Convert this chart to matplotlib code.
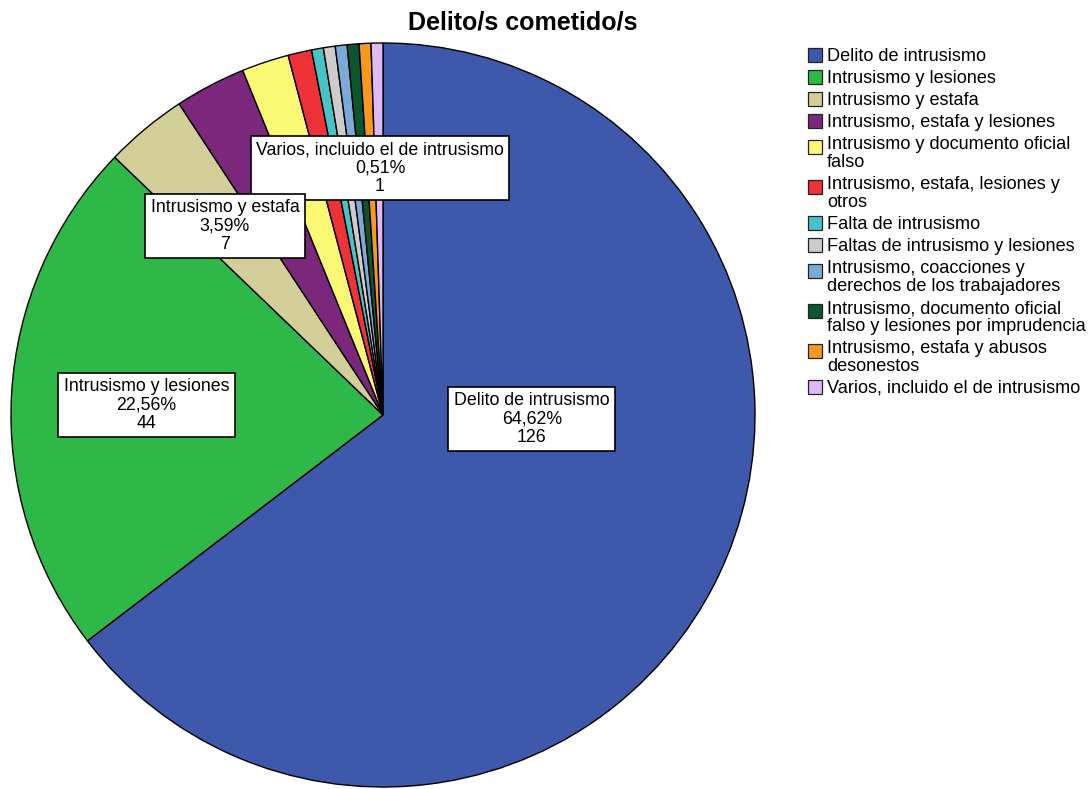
import matplotlib
matplotlib.use("Agg")
import matplotlib.pyplot as plt
from matplotlib.patches import Rectangle

plt.rcParams["font.family"] = ["Liberation Sans", "DejaVu Sans"]

# Categories (legend order) and case counts
categories = [
    "Delito de intrusismo",
    "Intrusismo y lesiones",
    "Intrusismo y estafa",
    "Intrusismo, estafa y lesiones",
    "Intrusismo y documento oficial\nfalso",
    "Intrusismo, estafa, lesiones y\notros",
    "Falta de intrusismo",
    "Faltas de intrusismo y lesiones",
    "Intrusismo, coacciones y\nderechos de los trabajadores",
    "Intrusismo, documento oficial\nfalso y lesiones por imprudencia",
    "Intrusismo, estafa y abusos\ndesonestos",
    "Varios, incluido el de intrusismo",
]
counts = [126, 44, 7, 6, 4, 2, 1, 1, 1, 1, 1, 1]
colors = [
    "#3e58ac", "#2eb848", "#d3ce97", "#7b287c", "#fbf873", "#ee3238",
    "#48c2c5", "#cccccc", "#7caad8", "#0b562c", "#f8981d", "#ddbaf1",
]

# Slices that carry a value label, with the label box centre (axes data
# units); listed in drawing order so later boxes sit on top
labelled = [0, 1, 11, 2]
label_pos = [(0.40, -0.01), (-0.636, 0.026), (-0.008, 0.663), (-0.425, 0.507)]

W, H = 1091, 789
fig = plt.figure(figsize=(W / 100, H / 100), dpi=100)
fig.patch.set_facecolor("white")


def fx(px):
    return px / W


def fy(py):
    return 1 - py / H


# Pie axes: square box around the circle
cx, cy, r = 383, 415, 372
ax = fig.add_axes([fx(cx - r), fy(cy + r), 2 * r / W, 2 * r / H])
ax.pie(
    counts,
    colors=colors,
    startangle=90,
    counterclock=False,
    radius=1.0,
    wedgeprops=dict(edgecolor="black", linewidth=1.0),
)
ax.set_xlim(-1.0, 1.0)
ax.set_ylim(-1.0, 1.0)
ax.set_aspect("equal")
ax.axis("off")

total = sum(counts)
label_texts = []
for idx, (lx, ly) in zip(labelled, label_pos):
    name = categories[idx].replace("\n", " ")
    pct = f"{100 * counts[idx] / total:.2f}".replace(".", ",")
    t = ax.text(
        lx, ly, f"{name}\n{pct}%\n{counts[idx]}",
        ha="center", va="center", fontsize=12.8, linespacing=1.12,
    )
    label_texts.append(t)

# White framed boxes behind the slice labels, sized from the rendered text
fig.canvas.draw()
renderer = fig.canvas.get_renderer()
to_fig = fig.transFigure.inverted()
for i, t in enumerate(label_texts):
    bb = t.get_window_extent(renderer)
    mx = (bb.x0 + bb.x1) / 2
    my = (bb.y0 + bb.y1) / 2
    w = bb.width + 11
    h = 64
    (x0, y0) = to_fig.transform((mx - w / 2, my - h / 2))
    (x1, y1) = to_fig.transform((mx + w / 2, my + h / 2))
    fig.add_artist(Rectangle((x0, y0), x1 - x0, y1 - y0,
                             transform=fig.transFigure, facecolor="white",
                             edgecolor="black", linewidth=1.2,
                             zorder=5 + 2 * i))
    t.remove()
    fig.add_artist(t)
    t.set_transform(ax.transData)
    t.set_zorder(6 + 2 * i)

fig.text(fx(523), fy(22), "Delito/s cometido/s", ha="center", va="center",
         fontsize=18, fontweight="bold")

# Legend drawn line by line
y = 55
for name, col in zip(categories, colors):
    lines = name.split("\n")
    pad = 4 if len(lines) > 1 else 0
    fig.patches.append(Rectangle((fx(808), fy(y + pad + 7)), 14 / W, 14 / H,
                                 transform=fig.transFigure, facecolor=col,
                                 edgecolor="#222222", linewidth=0.9))
    for k, line in enumerate(lines):
        fig.text(fx(827), fy(y + 18 * k + 6), line, ha="left", va="baseline",
                 fontsize=13.1)
    y += 18 * len(lines) + 4

fig.savefig("out.png", dpi=100, facecolor="white")
